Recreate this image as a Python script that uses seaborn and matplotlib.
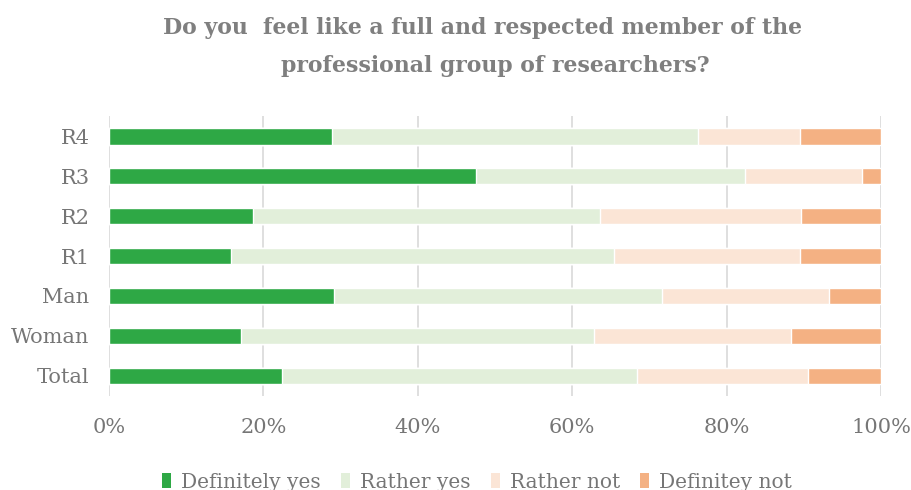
import matplotlib
matplotlib.use("Agg")
import matplotlib.pyplot as plt
import seaborn as sns
import pandas as pd
import numpy as np
from matplotlib.patches import Patch

categories = ["R4", "R3", "R2", "R1", "Man", "Woman", "Total"]
series = ["Definitely yes", "Rather yes", "Rather not", "Definitey not"]
definitely_yes = [28.9, 47.5, 18.7, 15.8, 29.1, 17.1, 22.4]
rather_yes = [47.4, 34.9, 44.9, 49.6, 42.5, 45.7, 46.0]
rather_not = [13.2, 15.1, 26.0, 24.1, 21.7, 25.6, 22.1]
definitely_not = [10.5, 2.5, 10.4, 10.5, 6.7, 11.6, 9.5]
colors = ["#2EA845", "#E2EFDA", "#FBE5D6", "#F4B183"]
tick_labels = ["0%", "20%", "40%", "60%", "80%", "100%"]

sns.set_theme(style="white")
plt.rcParams["font.family"] = ["DejaVu Serif", "DejaVu Sans"]
text_color = "#767676"

df = pd.DataFrame({
    "category": categories,
    series[0]: definitely_yes,
    series[1]: rather_yes,
    series[2]: rather_not,
    series[3]: definitely_not,
})
cum = df[series].cumsum(axis=1)

fig = plt.figure(figsize=(9.11, 4.90), dpi=100)
ax = fig.add_axes([0.1197, 0.192, 0.967 - 0.1197, 0.763 - 0.192])

# stacked bars: draw cumulative totals from the outermost segment inwards
for name, color in reversed(list(zip(series, colors))):
    sns.barplot(x=cum[name], y=df["category"], order=categories, orient="h",
                color=color, width=0.42, saturation=1, ax=ax, zorder=3)

ax.set_xlim(0, 100)
ax.set_xticks(np.linspace(0, 100, 6))
ax.set_xticklabels(tick_labels)
ax.set_xlabel("")
ax.set_ylabel("")
for s in ax.spines.values():
    s.set_visible(False)
ax.grid(axis="x", color="#D9D9D9", linewidth=1.2, zorder=0)
ax.grid(axis="y", visible=False)
ax.set_axisbelow(True)
ax.tick_params(axis="x", length=0, pad=16, labelsize=15, labelcolor=text_color)
ax.tick_params(axis="y", length=0, pad=14, labelsize=15, labelcolor=text_color)

title_kw = dict(ha="center", va="center", fontsize=15.8, fontweight="bold",
                color="#7F7F7F", family=["DejaVu Serif", "DejaVu Sans"])
fig.text(482 / 911, 0.943, "Do you  feel like a full and respected member of the", **title_kw)
fig.text(495 / 911, 0.865, "professional group of researchers?", **title_kw)

handles = [Patch(facecolor=c, edgecolor="none", label=n) for n, c in zip(series, colors)]
leg = fig.legend(handles=handles, loc="center", bbox_to_anchor=(477 / 911, 0.016),
                 ncol=4, frameon=False, fontsize=14.5, handlelength=0.45,
                 handleheight=0.75, handletextpad=0.5, columnspacing=1.0,
                 labelcolor=text_color)

fig.savefig("out.png", dpi=100)
